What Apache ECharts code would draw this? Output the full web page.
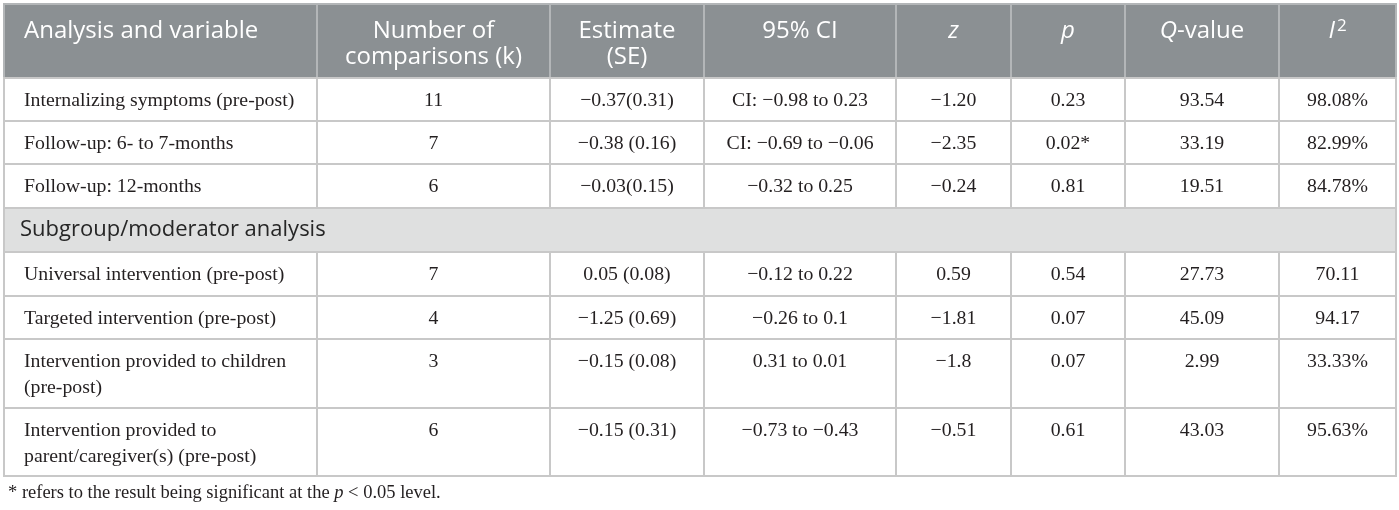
<!DOCTYPE html>
<html>
<head>
<meta charset="utf-8">
<script src="https://cdn.jsdelivr.net/npm/echarts@6/dist/echarts.min.js"></script>
<style>
html,body{margin:0;padding:0;background:#fff;}
#chart{width:1399px;height:510px;}
</style>
</head>
<body>
<div id="chart"></div>
<script>
// ---- data ----
const headers = ['Analysis and variable', 'Number of\ncomparisons (k)', 'Estimate\n(SE)', '95% CI', '{i|z}', '{i|p}', '{i|Q}-value', '{i|I}{sup|2}'];
const variables = [
  'Internalizing symptoms (pre-post)',
  'Follow-up: 6- to 7-months',
  'Follow-up: 12-months',
  'Universal intervention (pre-post)',
  'Targeted intervention (pre-post)',
  'Intervention provided to children\n(pre-post)',
  'Intervention provided to\nparent/caregiver(s) (pre-post)'
];
const kValues = ['11', '7', '6', '7', '4', '3', '6'];
const estimates = ['−0.37(0.31)', '−0.38 (0.16)', '−0.03(0.15)', '0.05 (0.08)', '−1.25 (0.69)', '−0.15 (0.08)', '−0.15 (0.31)'];
const ciValues = ['CI: −0.98 to 0.23', 'CI: −0.69 to −0.06', '−0.32 to 0.25', '−0.12 to 0.22', '−0.26 to 0.1', '0.31 to 0.01', '−0.73 to −0.43'];
const zValues = ['−1.20', '−2.35', '−0.24', '0.59', '−1.81', '−1.8', '−0.51'];
const pValues = ['0.23', '0.02*', '0.81', '0.54', '0.07', '0.07', '0.61'];
const qValues = ['93.54', '33.19', '19.51', '27.73', '45.09', '2.99', '43.03'];
const i2Values = ['98.08%', '82.99%', '84.78%', '70.11', '94.17', '33.33%', '95.63%'];
const subgroupTitle = 'Subgroup/moderator analysis';
const mainCount = 3; // rows before the subgroup heading
const footnote = '* refers to the result being significant at the {i|p} < 0.05 level.';

// ---- layout (sizes only) ----
const colWidths = [313, 233, 154, 192, 115, 114, 154, 117];
const rowHeights = [74, 43, 43, 44, 44, 44, 43, 69, 68];

const colEdges = [0];
colWidths.forEach(w => colEdges.push(colEdges[colEdges.length - 1] + w));
const rowEdges = [0];
rowHeights.forEach(h => rowEdges.push(rowEdges[rowEdges.length - 1] + h));
const totalW = colEdges[colEdges.length - 1];
const totalH = rowEdges[rowEdges.length - 1];

// build cells
const cells = [];
headers.forEach((h, c) => cells.push({ kind: 'head', c0: c, c1: c + 1, r: 0, text: h }));
const bodyRows = variables.map((v, i) => [v, kValues[i], estimates[i], ciValues[i], zValues[i], pValues[i], qValues[i], i2Values[i]]);
let r = 1;
bodyRows.forEach((row, i) => {
  if (i === mainCount) {
    cells.push({ kind: 'sub', c0: 0, c1: headers.length, r: r, text: subgroupTitle });
    r++;
  }
  row.forEach((t, c) => cells.push({ kind: 'body', c0: c, c1: c + 1, r: r, text: t }));
  r++;
});

const seriesData = cells.map(cell => [colEdges[cell.c0], colEdges[cell.c1], rowEdges[cell.r], rowEdges[cell.r + 1]]);

const SANS = '"Open Sans", "Noto Sans", sans-serif';
const SERIF = '"Liberation Serif", "DejaVu Serif", serif';
const INK = '#231f20';

function renderItem(params, api) {
  const cell = cells[params.dataIndex];
  const p0 = api.coord([api.value(0), api.value(2)]);
  const p1 = api.coord([api.value(1), api.value(3)]);
  const x = p0[0], y = p0[1], w = p1[0] - p0[0], h = p1[1] - p0[1];
  let fill, stroke, textStyle;
  const left = cell.c0 === 0;
  if (cell.kind === 'head') {
    fill = '#8b9093'; stroke = '#b3b6b8';
    textStyle = {
      text: cell.text, x: left ? x + 20 : x + w / 2, y: y + 14,
      align: left ? 'left' : 'center', verticalAlign: 'top',
      fontFamily: SANS, fontSize: 24, lineHeight: 26, fill: '#ffffff',
      rich: {
        i: { fontFamily: SANS, fontSize: 24, fontStyle: 'italic', fill: '#ffffff', lineHeight: 26 },
        sup: { fontFamily: SANS, fontSize: 17, fill: '#ffffff', verticalAlign: 'top', lineHeight: 26, padding: [0, 0, 12, 2] }
      }
    };
  } else if (cell.kind === 'sub') {
    fill = '#dfe0e0'; stroke = '#c8c8c8';
    textStyle = {
      text: cell.text, x: x + 16, y: y + h / 2,
      align: 'left', verticalAlign: 'middle',
      fontFamily: SANS, fontSize: 22, fill: '#262626'
    };
  } else {
    fill = '#ffffff'; stroke = '#c8c8c8';
    textStyle = {
      text: cell.text, x: left ? x + 20 : x + w / 2, y: y + 9.5,
      align: left ? 'left' : 'center', verticalAlign: 'top',
      fontFamily: SERIF, fontSize: 19.8, lineHeight: 26, fill: INK
    };
  }
  return {
    type: 'group',
    children: [
      { type: 'rect', shape: { x: x, y: y, width: w, height: h }, style: { fill: fill, stroke: stroke, lineWidth: 2 } },
      { type: 'text', style: textStyle }
    ]
  };
}

const chart = echarts.init(document.getElementById('chart'));
chart.setOption({
  animation: false,
  backgroundColor: '#ffffff',
  grid: { left: 4, top: 4, width: totalW, height: totalH },
  xAxis: { type: 'value', min: 0, max: totalW, show: false },
  yAxis: { type: 'value', min: 0, max: totalH, inverse: true, show: false },
  series: [{
    type: 'custom',
    coordinateSystem: 'cartesian2d',
    renderItem: renderItem,
    data: seriesData,
    encode: { x: [0, 1], y: [2, 3] },
    clip: false,
    silent: true
  }],
  graphic: [{
    type: 'text', left: 8, top: 482,
    style: {
      text: footnote, fontFamily: SERIF, fontSize: 18.5, lineHeight: 22, fill: INK,
      rich: {
        i: { fontFamily: SERIF, fontSize: 18.5, fontStyle: 'italic', fill: INK, lineHeight: 22 }
      }
    }
  }]
});
</script>
</body>
</html>
